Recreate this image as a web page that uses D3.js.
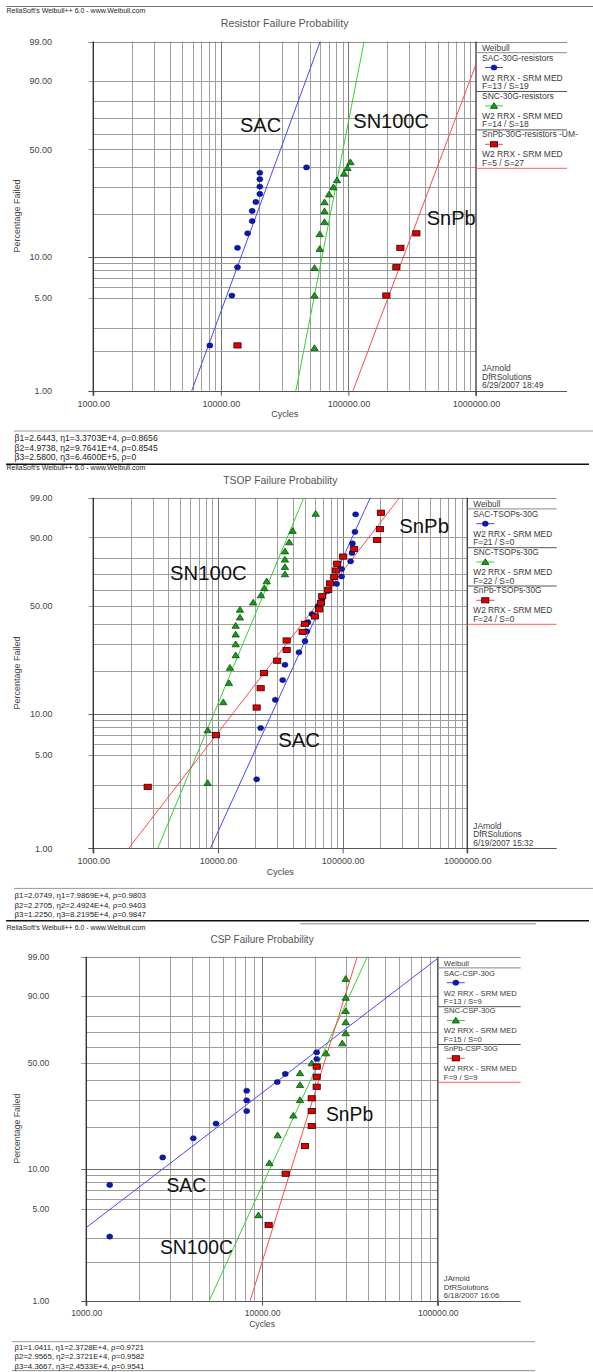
<!DOCTYPE html>
<html>
<head>
<meta charset="utf-8">
<title>Failure Probability – Weibull plots</title>
<script src="https://cdn.jsdelivr.net/npm/d3@7/dist/d3.min.js"></script>
<style>
  html, body { margin: 0; padding: 0; background: #fff; }
  svg { display: block; font-family: "Liberation Sans", Arial, Helvetica, sans-serif; }
</style>
</head>
<body>
<svg id="chart" width="593" height="1372"></svg>
<script>
// ---------- values shared by the three Weibull probability plots ----------
const pctTicks = [1, 5, 10, 50, 90, 99];
const pctGrid = [2, 3, 5, 6, 7, 8, 9, 10, 20, 30, 40, 50, 60, 70, 80, 90];
const headerText = "ReliaSoft's Weibull++ 6.0 - www.Weibull.com";
const fitMethod = "W2 RRX - SRM MED";
const curveTags = ["SAC", "SN100C", "SnPb"];

// ---------- Resistors ----------
const resistorTitle = "Resistor Failure Probability";
const resistorXTicks = [1000, 10000, 100000, 1000000];
const resistorNames = ["SAC-30G-resistors", "SNC-30G-resistors", "SnPb-30G-resistors -UM-"];
const resistorCounts = ["F=13 / S=19", "F=14 / S=18", "F=5 / S=27"];
const resistorBeta = [2.6443, 4.9738, 2.5800];
const resistorEta = [3.3703e4, 9.7641e4, 6.4600e5];
const resistorRho = [0.8656, 0.8545, 0];
const resistorStamp = ["JArnold", "DfRSolutions", "6/29/2007 18:49"];
const resistorSacCycles = [8200, 12200, 13500, 13500, 16200, 17600, 17600, 18800, 20200, 20200, 20200, 20200, 46900];
const resistorSacPct = [2.2, 5.2, 8.4, 11.6, 14.7, 17.9, 21.0, 24.1, 27.2, 30.3, 33.7, 36.9, 39.7];
const resistorSncCycles = [54200, 54200, 54200, 59600, 59600, 64900, 64900, 64900, 70500, 76300, 81400, 92400, 98200, 103700];
const resistorSncPct = [2.1, 5.2, 8.3, 11.4, 14.5, 17.6, 20.9, 24.0, 27.0, 30.0, 33.2, 36.4, 39.4, 42.5];
const resistorSnpbCycles = [13500, 198400, 237600, 255400, 340800];
const resistorSnpbPct = [2.2, 5.2, 8.4, 11.6, 14.7];

// ---------- TSOPs ----------
const tsopTitle = "TSOP Failure Probability";
const tsopXTicks = [1000, 10000, 100000, 1000000];
const tsopNames = ["SAC-TSOPs-30G", "SNC-TSOPs-30G", "SnPb-TSOPs-30G"];
const tsopCounts = ["F=21 / S=0", "F=22 / S=0", "F=24 / S=0"];
const tsopBeta = [2.0749, 2.2705, 1.2250];
const tsopEta = [7.9869e4, 2.4924e4, 8.2195e4];
const tsopRho = [0.9803, 0.9403, 0.9847];
const tsopStamp = ["JArnold", "DfRSolutions", "6/19/2007 15:32"];
const tsopSacCycles = [20430, 22000, 28810, 33030, 34460, 44630, 49860, 51730, 52690, 56730, 63380,
  68230, 76220, 89500, 98170, 98170, 115900, 118800, 119800, 125500, 127100];
const tsopSacPct = [3.3, 7.9, 12.6, 17.3, 22.0, 26.6, 31.3, 36.0, 40.7, 45.3, 50.0,
  54.7, 59.4, 64.0, 68.7, 73.4, 78.0, 82.7, 87.4, 92.1, 96.8];
const tsopSncCycles = [8270, 8270, 11030, 12250, 12480, 13870, 13870, 13870, 13870, 15010, 15010,
  19190, 22130, 23510, 24580, 34460, 34460, 34460, 34460, 37300, 39720, 60740];
const tsopSncPct = [3.1, 7.6, 12.1, 16.5, 21.0, 25.4, 29.9, 34.4, 38.8, 43.3, 47.8,
  52.2, 56.7, 61.2, 65.6, 70.1, 74.6, 79.0, 83.5, 87.9, 92.4, 96.9];
const tsopSnpbCycles = [2730, 9640, 20430, 22000, 23380, 29890, 35560, 35560, 47780, 49860, 59960, 64920,
  66990, 68610, 76650, 79110, 85630, 88360, 90500, 101100, 123200, 189400, 199100, 202800];
const tsopSnpbPct = [2.9, 7.0, 11.1, 15.2, 19.3, 23.4, 27.5, 31.6, 35.7, 39.8, 43.9, 48.0,
  52.0, 56.1, 60.2, 64.3, 68.4, 72.5, 76.6, 80.7, 84.8, 88.9, 93.0, 97.1];

// ---------- CSPs ----------
const cspTitle = "CSP Failure Probability";
const cspXTicks = [1000, 10000, 100000];
const cspNames = ["SAC-CSP-30G", "SNC-CSP-30G", "SnPb-CSP-30G"];
const cspCounts = ["F=13 / S=9", "F=15 / S=0", "F=9 / S=9"];
const cspBeta = [1.0411, 2.9565, 4.3667];
const cspEta = [2.3728e4, 2.3721e4, 2.4533e4];
const cspRho = [0.9721, 0.9582, 0.9541];
const cspStamp = ["JArnold", "DfRSolutions", "6/18/2007 16:06"];
const cspSacCycles = [1359, 1359, 2721, 4063, 5470, 8178, 8178, 8178, 12210, 13560, 20460, 20460, 20460];
const cspSacPct = [3.1, 7.6, 12.1, 16.6, 21.0, 25.5, 30.0, 34.5, 39.0, 43.5, 48.0, 52.5, 56.8];
const cspSncCycles = [9532, 11010, 12270, 15060, 16440, 16440, 16440, 19170, 23120, 28620,
  29920, 29920, 29920, 29920, 29920];
const cspSncPct = [4.5, 11.0, 17.4, 23.8, 30.1, 37.4, 43.9, 49.8, 56.1, 62.6, 69.2, 76.1, 82.6, 89.1, 95.5];
const cspSnpbCycles = [10900, 13630, 17550, 19170, 19170, 19170, 20460, 20460, 20460];
const cspSnpbPct = [3.8, 9.2, 14.6, 20.2, 25.5, 30.9, 36.5, 41.9, 47.8];

// ---------- styles ----------
const seriesStyle = [
  { kind: "dot", line: "#4646ff", fill: "#0b1bb0", stroke: "#000766" },
  { kind: "tri", line: "#35d035", fill: "#12a012", stroke: "#063806" },
  { kind: "sq",  line: "#ff4848", fill: "#e40000", stroke: "#2a0000" }
];

const svg = d3.select("#chart");

// Weibull probability transform: ln(-ln(1 - F))
const wb = p => Math.log(-Math.log(1 - p / 100));
const sci = v => {
  const e = Math.floor(Math.log10(v));
  return (v / Math.pow(10, e)).toFixed(4) + "E+" + e;
};

function drawMarker(sel, kind, st) {
  if (kind === "dot") {
    return sel.append("ellipse").attr("rx", 3).attr("ry", 2.6)
      .attr("fill", st.fill).attr("stroke", st.stroke).attr("stroke-width", 0.5);
  }
  if (kind === "tri") {
    return sel.append("path").attr("d", "M0,-3.3L3.7,2.5L-3.7,2.5Z")
      .attr("fill", st.fill).attr("stroke", st.stroke).attr("stroke-width", 0.7);
  }
  return sel.append("rect").attr("x", -3.6).attr("y", -2.6).attr("width", 7.2).attr("height", 5.2)
    .attr("fill", st.fill).attr("stroke", st.stroke).attr("stroke-width", 0.8);
}

function drawPanel(p, idx) {
  const L = p.layout;
  const F = L.fonts;
  const x = d3.scaleLog().domain([p.xTicks[0], p.xTicks[p.xTicks.length - 1]]).range([L.left, L.right]);
  const y = d3.scaleLinear().domain([wb(1), wb(99)]).range([L.bottom, L.top]);
  const yP = v => y(wb(v));
  const g = svg.append("g");

  // header + title
  g.append("text").attr("x", 6.5).attr("y", L.headerY).attr("dy", "0.35em")
    .attr("font-size", 7).attr("fill", "#222").text(headerText);
  g.append("text").attr("x", (L.left + L.right) / 2).attr("y", L.titleY).attr("dy", "0.35em")
    .attr("text-anchor", "middle").attr("font-size", F.title).attr("fill", "#555").text(p.title);

  // vertical grid (log cycles)
  const [d0, d1] = x.domain();
  const vGrid = [];
  for (let k = Math.round(Math.log10(d0)); k < Math.round(Math.log10(d1)); k++) {
    for (let m = 1; m <= 10; m++) {
      const v = m * Math.pow(10, k);
      if (v > d0 && v < d1) vGrid.push(v);
    }
  }
  const uniqV = Array.from(new Set(vGrid.map(v => +v.toPrecision(6))));
  g.append("g").selectAll("line").data(uniqV).join("line")
    .attr("x1", d => Math.round(x(d)) + 0.5).attr("x2", d => Math.round(x(d)) + 0.5)
    .attr("y1", L.top).attr("y2", L.bottom)
    .attr("stroke", d => (Math.abs(Math.log10(d) % 1) < 1e-6 ? "#747474" : "#9f9f9f"))
    .attr("stroke-width", 1);

  // horizontal grid (Weibull percent)
  g.append("g").selectAll("line").data(pctGrid).join("line")
    .attr("x1", d => (pctTicks.includes(d) ? L.left - 5 : L.left)).attr("x2", L.right)
    .attr("y1", d => Math.round(yP(d)) + 0.5).attr("y2", d => Math.round(yP(d)) + 0.5)
    .attr("stroke", d => (d === 10 ? "#6a6a6a" : "#9c9c9c")).attr("stroke-width", 1);

  // frame lines: top/bottom run under the legend too
  [99, 1].forEach(v => {
    g.append("line").attr("x1", L.left - 5).attr("x2", L.legendRight)
      .attr("y1", Math.round(yP(v)) + 0.5).attr("y2", Math.round(yP(v)) + 0.5)
      .attr("stroke", v === 1 ? "#555" : "#8a8a8a").attr("stroke-width", 1);
  });
  g.append("line").attr("x1", L.left).attr("x2", L.left).attr("y1", L.top).attr("y2", L.bottom + 5)
    .attr("stroke", "#333").attr("stroke-width", 1.4);
  g.append("line").attr("x1", L.right).attr("x2", L.right).attr("y1", L.top).attr("y2", L.bottom + 5)
    .attr("stroke", "#444").attr("stroke-width", 1.4);

  // x axis ticks and labels
  const xAxis = d3.axisBottom(x).tickValues(p.xTicks).tickFormat(d => d.toFixed(2))
    .tickSize(5).tickPadding(4.5);
  const xa = g.append("g").attr("transform", `translate(0,${L.bottom})`).call(xAxis);
  xa.select(".domain").remove();
  xa.selectAll(".tick line").attr("stroke", "#555");
  xa.selectAll("text").attr("font-size", F.tick).attr("fill", "#444").attr("font-family", null);

  // y axis labels
  const yAxis = d3.axisLeft(y).tickValues(pctTicks.map(wb))
    .tickFormat((d, i) => pctTicks[i].toFixed(2)).tickSize(0).tickPadding(L.left - L.yLabelRight);
  const ya = g.append("g").attr("transform", `translate(${L.left},0)`).call(yAxis);
  ya.select(".domain").remove();
  ya.selectAll("text").attr("font-size", F.tick).attr("fill", "#444").attr("font-family", null);

  // axis titles
  g.append("text").attr("x", (L.left + L.right) / 2).attr("y", L.bottom + 23.5).attr("dy", "0.35em")
    .attr("text-anchor", "middle").attr("font-size", F.tick).attr("fill", "#444").text("Cycles");
  g.append("text").attr("transform", `translate(17,${(L.top + L.bottom) / 2}) rotate(-90)`)
    .attr("dy", "0.35em").attr("text-anchor", "middle").attr("font-size", F.tick)
    .attr("fill", "#444").text("Percentage Failed");

  // fitted Weibull lines, clipped to the plotting area
  const clipId = "clip" + idx;
  svg.append("clipPath").attr("id", clipId).append("rect")
    .attr("x", L.left).attr("y", L.top).attr("width", L.right - L.left).attr("height", L.bottom - L.top);
  const ts = d3.range(0, 41).map(i => d0 * Math.pow(d1 / d0, i / 40));
  const fitG = g.append("g").attr("clip-path", `url(#${clipId})`);
  p.beta.forEach((b, i) => {
    const line = d3.line().x(t => x(t)).y(t => y(b * (Math.log(t) - Math.log(p.eta[i]))));
    fitG.append("path").attr("d", line(ts)).attr("fill", "none")
      .attr("stroke", seriesStyle[i].line).attr("stroke-width", 1);
  });

  // data points
  p.series.forEach((s, i) => {
    const st = seriesStyle[i];
    const pts = d3.zip(s.cycles, s.pct);
    const grp = g.append("g");
    pts.forEach(d => {
      drawMarker(grp, st.kind, st).attr("transform", `translate(${x(d[0])},${yP(d[1])})`);
    });
  });

  // curve tags
  p.tags.forEach((t, i) => {
    g.append("text").attr("x", L.tagPos[i][0]).attr("y", L.tagPos[i][1])
      .attr("font-size", F.big).attr("fill", "#111").text(t);
  });

  // legend
  const lx = L.right + 6;
  const lg = g.append("g").attr("font-size", F.legend).attr("fill", "#3a3a3a");
  lg.append("text").attr("x", lx).attr("y", L.top + 6.3).attr("dy", "0.35em").text("Weibull");
  lg.append("line").attr("x1", L.right).attr("x2", L.legendRight)
    .attr("y1", L.top + 11.2).attr("y2", L.top + 11.2).attr("stroke", "#888").attr("stroke-width", 1);
  p.names.forEach((n, i) => {
    const b = L.top + i * L.legendStep;
    const st = seriesStyle[i];
    lg.append("text").attr("x", lx).attr("y", b + 16.2).attr("dy", "0.35em").text(n);
    lg.append("line").attr("x1", lx + 3).attr("x2", lx + 21).attr("y1", b + 26).attr("y2", b + 26)
      .attr("stroke", st.line).attr("stroke-width", 1);
    drawMarker(lg, st.kind, st).attr("transform", `translate(${lx + 12},${b + 26})`);
    lg.append("text").attr("x", lx).attr("y", b + 36.2).attr("dy", "0.35em").text(fitMethod);
    lg.append("text").attr("x", lx).attr("y", b + 44.6).attr("dy", "0.35em").text(p.counts[i]);
    lg.append("line").attr("x1", L.right).attr("x2", L.legendRight)
      .attr("y1", b + 50).attr("y2", b + 50)
      .attr("stroke", i === 2 ? "#ff5a5a" : "#555").attr("stroke-width", 1);
  });
  [-22.3, -13.8, -5.2].forEach((dy, i) => {
    lg.append("text").attr("x", lx).attr("y", L.bottom + dy).attr("dy", "0.35em").text(p.stamp[i]);
  });

  // fitted parameter summary
  g.append("line").attr("x1", L.sep[1]).attr("x2", L.sep[2]).attr("y1", L.sep[0]).attr("y2", L.sep[0])
    .attr("stroke", "#999").attr("stroke-width", 1);
  p.beta.forEach((b, i) => {
    const n = i + 1;
    g.append("text").attr("x", 14.5).attr("y", L.betaY[i]).attr("dy", "0.35em")
      .attr("font-size", F.beta).attr("fill", "#222")
      .text(`\u03b2${n}=${b.toFixed(4)}, \u03b7${n}=${sci(p.eta[i])}, \u03c1=${String(p.rho[i])}`);
  });
}

// page rules between the stacked reports
const pageRules = [
  { y: 6.5, x1: 6, x2: 593, stroke: "#777", w: 1 },
  { y: 464.3, x1: 6, x2: 589, stroke: "#111", w: 1.6 },
  { y: 920.7, x1: 6, x2: 589, stroke: "#111", w: 1.6 },
  { y: 923.8, x1: 300, x2: 536, stroke: "#888", w: 1 },
  { y: 1370.7, x1: 12, x2: 535, stroke: "#888", w: 1 }
];
svg.append("rect").attr("width", 593).attr("height", 1372).attr("fill", "#fff");
svg.append("g").selectAll("line").data(pageRules).join("line")
  .attr("x1", d => d.x1).attr("x2", d => d.x2).attr("y1", d => d.y).attr("y2", d => d.y)
  .attr("stroke", d => d.stroke).attr("stroke-width", d => d.w);

const panels = [
  {
    title: resistorTitle, xTicks: resistorXTicks, names: resistorNames, counts: resistorCounts,
    beta: resistorBeta, eta: resistorEta, rho: resistorRho, stamp: resistorStamp, tags: curveTags,
    series: [
      { cycles: resistorSacCycles, pct: resistorSacPct },
      { cycles: resistorSncCycles, pct: resistorSncPct },
      { cycles: resistorSnpbCycles, pct: resistorSnpbPct }
    ],
    layout: {
      left: 93.3, right: 476, top: 41.5, bottom: 390.7, legendRight: 567, yLabelRight: 52,
      headerY: 10.5, titleY: 23, sep: [431, 14, 593], betaY: [438.2, 447.5, 456.8],
      legendStep: 38.4,
      tagPos: [[240, 132.3], [353.3, 128.3], [426.7, 225]],
      fonts: { title: 10.7, tick: 9, legend: 8.5, beta: 8.6, big: 20 }
    }
  },
  {
    title: tsopTitle, xTicks: tsopXTicks, names: tsopNames, counts: tsopCounts,
    beta: tsopBeta, eta: tsopEta, rho: tsopRho, stamp: tsopStamp, tags: curveTags,
    series: [
      { cycles: tsopSacCycles, pct: tsopSacPct },
      { cycles: tsopSncCycles, pct: tsopSncPct },
      { cycles: tsopSnpbCycles, pct: tsopSnpbPct }
    ],
    layout: {
      left: 93.3, right: 467.3, top: 497.7, bottom: 848.3, legendRight: 556.7, yLabelRight: 52.5,
      headerY: 467.5, titleY: 480, sep: [888.4, 14, 593], betaY: [895.6, 905.1, 914.6],
      legendStep: 38.3,
      tagPos: [[278.3, 747.3], [170, 580], [399.3, 532.7]],
      fonts: { title: 10.4, tick: 9, legend: 8.3, beta: 7.9, big: 20.3 }
    }
  },
  {
    title: cspTitle, xTicks: cspXTicks, names: cspNames, counts: cspCounts,
    beta: cspBeta, eta: cspEta, rho: cspRho, stamp: cspStamp, tags: curveTags,
    series: [
      { cycles: cspSacCycles, pct: cspSacPct },
      { cycles: cspSncCycles, pct: cspSncPct },
      { cycles: cspSnpbCycles, pct: cspSnpbPct }
    ],
    layout: {
      left: 86.3, right: 437.8, top: 956.7, bottom: 1300.7, legendRight: 520.7, yLabelRight: 49.3,
      headerY: 927.5, titleY: 939.3, sep: [1341.7, 12, 535], betaY: [1346.9, 1356.4, 1365.9],
      legendStep: 37.8,
      tagPos: [[166.5, 1191.7], [160, 1254.3], [326, 1120.7]],
      fonts: { title: 10, tick: 8.6, legend: 7.7, beta: 7.8, big: 19.3 }
    }
  }
];

panels.forEach((p, i) => drawPanel(p, i));
</script>
</body>
</html>
